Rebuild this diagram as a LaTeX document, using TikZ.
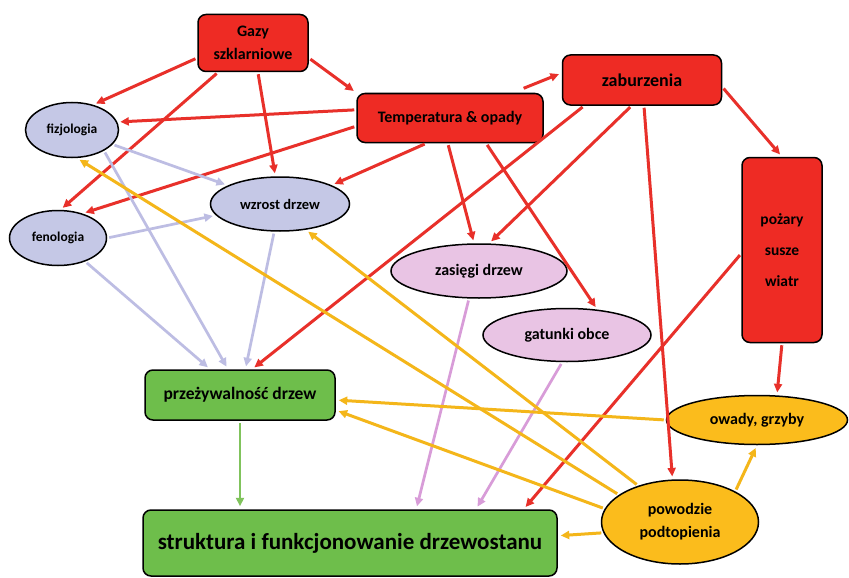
\documentclass[tikz,border=0pt]{standalone}
\usepackage{fontspec}
\setmainfont{Carlito}
\usetikzlibrary{shapes.geometric,arrows.meta}

\definecolor{boxred}{HTML}{EE2B24}
\definecolor{linered}{HTML}{E8302A}
\definecolor{lav}{HTML}{C5C8E6}
\definecolor{linelav}{HTML}{BDBDE3}
\definecolor{pinkish}{HTML}{E9C4E4}
\definecolor{linepink}{HTML}{D89CD8}
\definecolor{amber}{HTML}{FBBC1C}
\definecolor{lineamber}{HTML}{F4B61A}
\definecolor{leaf}{HTML}{6EBE4B}
\definecolor{lineleaf}{HTML}{80C35C}

\newcommand{\fs}[1]{\bfseries\fontsize{#1}{23}\selectfont}

\begin{document}
\begin{tikzpicture}[x=1pt,y=-1pt,>={Triangle[length=8.5pt,width=8pt]},shorten >=3pt,shorten <=2pt,
    red box/.style={draw,line width=1.5pt,fill=boxred,rounded corners=8pt,align=center,font=\fs{16}},
    green box/.style={red box,fill=leaf},
    lav node/.style={ellipse,draw,line width=1.5pt,fill=lav,inner sep=0pt,font=\fs{16}},
    pink node/.style={lav node,fill=pinkish},
    amber node/.style={lav node,fill=amber,align=center},
    red arrow/.style={->,color=linered,line width=3pt},
    lav arrow/.style={->,color=linelav,line width=2.7pt},
    pink arrow/.style={->,color=linepink,line width=2.7pt},
    amber arrow/.style={->,color=lineamber,line width=3pt},
    leaf arrow/.style={->,color=lineleaf,line width=2.8pt}]

    \useasboundingbox[fill=white] (0,0) rectangle (849,578);

    \node (gazy) [red box,minimum width=110pt,minimum height=57pt] at (253,43) {Gazy\\szklarniowe};
    \node (temp) [red box,minimum width=186pt,minimum height=49pt] at (450,118) {Temperatura \& opady};
    \node (zab) [red box,minimum width=159pt,minimum height=50pt,font=\fs{18}] at (642,80) {zaburzenia};
    \node (pozary) [red box,minimum width=80pt,minimum height=185pt,font=\bfseries\fontsize{15.5}{31}\selectfont] at (782,250) {pożary\\susze\\wiatr};

    \node (fizj) [lav node,minimum width=93pt,minimum height=55pt,font=\fs{13.5}] at (72,130) {fizjologia};
    \node (fen) [lav node,minimum width=97pt,minimum height=55pt,font=\fs{13.5}] at (58,238) {fenologia};
    \node (wzrost) [lav node,minimum width=139pt,minimum height=54pt,font=\fs{14.5}] at (280,204) {wzrost drzew};

    \node (zas) [pink node,minimum width=176pt,minimum height=54pt] at (479,271) {zasięgi drzew};
    \node (gat) [pink node,minimum width=168pt,minimum height=53pt] at (567,335) {gatunki obce};

    \node (owady) [amber node,minimum width=181pt,minimum height=49pt] at (757,420) {owady, grzyby};
    \node (pow) [amber node,minimum width=157pt,minimum height=84pt] at (680,522) {powodzie\\podtopienia};

    \node (przez) [green box,minimum width=190pt,minimum height=50pt,font=\fs{17.5}] at (240,395) {przeżywalność drzew};
    \node (struk) [green box,minimum width=414pt,minimum height=66pt,font=\fs{23}] at (350,543) {struktura i funkcjonowanie drzewostanu};

    \path[red arrow]
        (gazy.195) edge (fizj.50)
        (gazy.220) edge (fen.85)
        (gazy) edge (wzrost)
        (gazy.345) edge (temp.north west)

        (temp.175) edge (fizj.10)
        (temp.185) edge (fen.45)
        (temp.227) edge (wzrost.20)
        (temp.22) edge[shorten <=12pt] (zab.175)
        (temp.265) edge (zas.100)
        (temp.-35) edge (gat.40)

        (zab.204) edge (przez.65)
        (zab.248) edge (zas.70)
        (zab) edge (pow.100)
        (zab.-5) edge (pozary.north)

        (pozary.185) edge (struk.11)
        (pozary.south) edge (owady.51)
    ;

    \path[lav arrow]
        (fizj) edge (wzrost)
        (fizj.-33) edge (przez.115)
        (fen.0) edge (wzrost.190)
        (fen) edge (przez)
        (wzrost) edge (przez)
    ;

    \path[pink arrow]
        (zas.250) edge (struk.27)
        (gat.260) edge (struk.15)
    ;

    \path[amber arrow]
        (pow.156) edge (fizj.-80)
        (pow.139) edge (wzrost.-45)
        (owady.west) edge (przez.-3)
        (pow.170) edge (przez.-9)
        (pow.188) edge (struk.2)
        (pow.29) edge (owady.south)
    ;

    \path[leaf arrow]
        (przez.south) edge (przez.south |- struk.north)
    ;
\end{tikzpicture}
\end{document}
